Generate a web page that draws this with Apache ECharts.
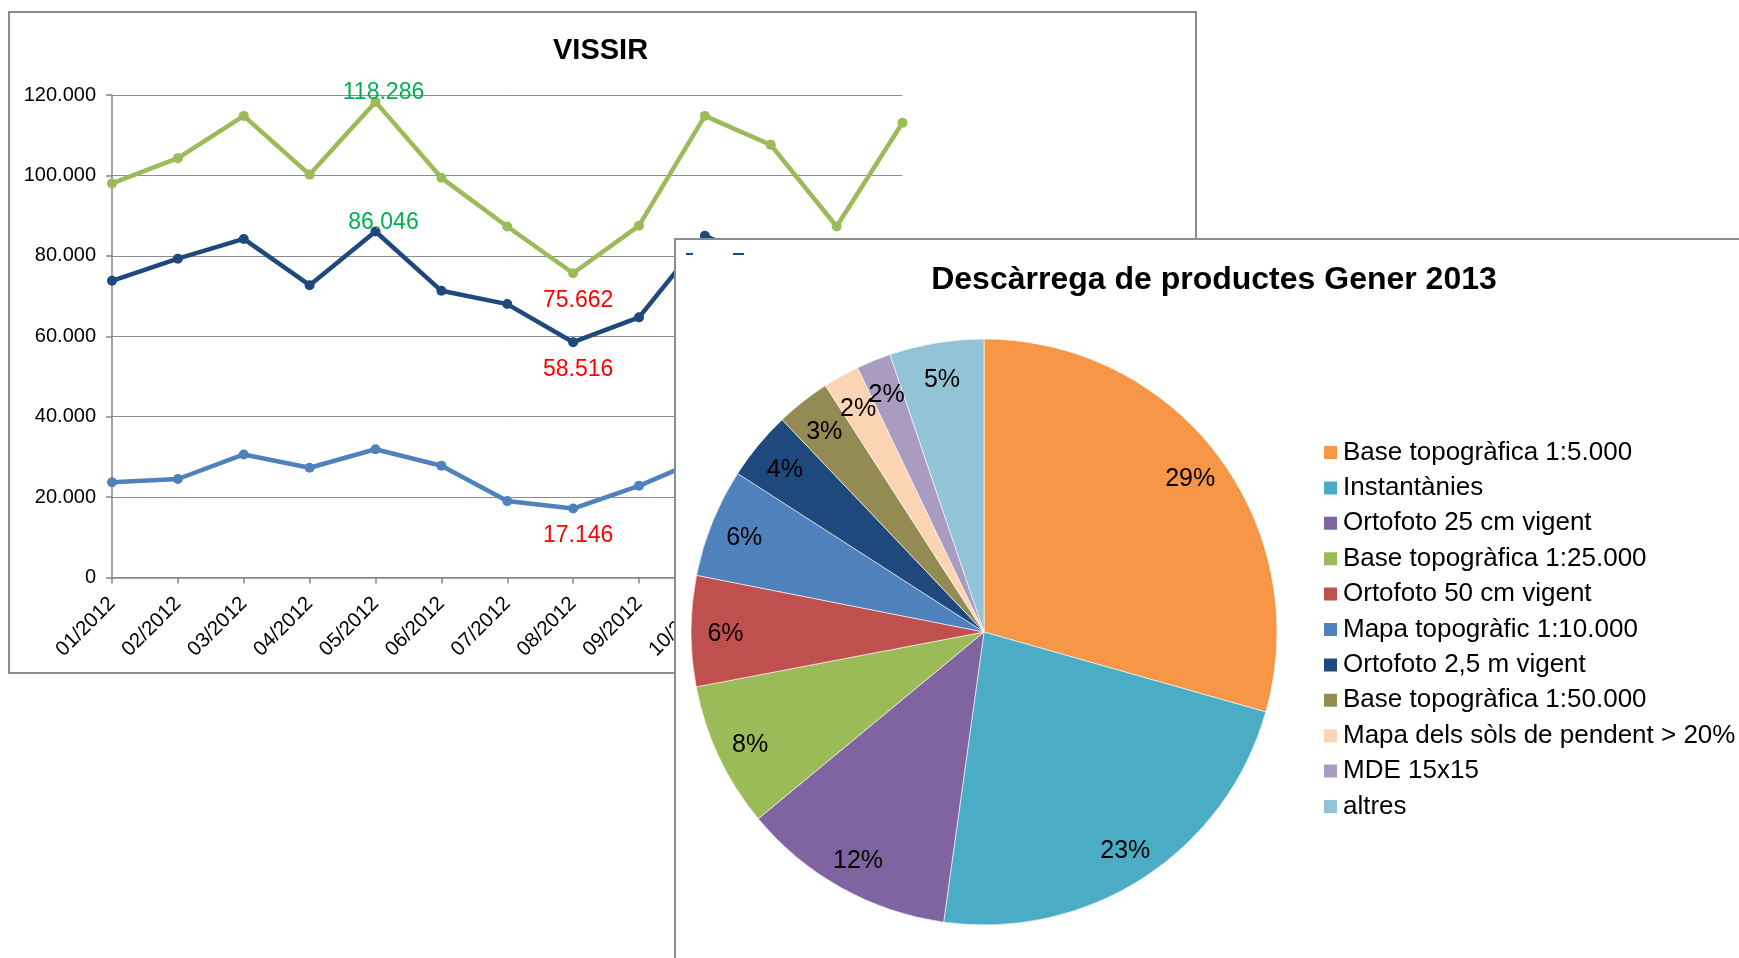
<!DOCTYPE html>
<html>
<head>
<meta charset="utf-8">
<script src="https://cdn.jsdelivr.net/npm/echarts@6/dist/echarts.min.js"></script>
<style>
  html, body { margin: 0; padding: 0; width: 1739px; height: 958px; overflow: hidden; background: #fff; }
  #lineBox { position: absolute; left: 8px; top: 11px; width: 1189px; height: 663px; border: 2px solid #8c8c8c; box-sizing: border-box; background: #fff; }
  #pieBox { position: absolute; left: 674px; top: 238px; width: 1080px; height: 730px; border: 2px solid #8c8c8c; box-sizing: border-box; background: #fff; }
  #lineChart, #pieChart { width: 100%; height: 100%; }
</style>
</head>
<body>
<div id="lineBox"><div id="lineChart"></div></div>
<div id="pieBox"><div id="pieChart"></div></div>
<script>
// ---------- Line chart data (VISSIR) ----------
const months = ['01/2012','02/2012','03/2012','04/2012','05/2012','06/2012','07/2012','08/2012','09/2012','10/2012','11/2012','12/2012','01/2013'];
const totalSeries = [98000, 104300, 114800, 100200, 118286, 99400, 87300, 75662, 87500, 114800, 107600, 87300, 113100];
const darkSeries  = [73800, 79300, 84200, 72700, 86046, 71300, 68000, 58516, 64700, 85000, 78000, 63500, 82500];
const lightSeries = [23700, 24500, 30600, 27300, 31900, 27800, 19000, 17146, 22800, 29800, 29600, 23800, 30600];
const yTickLabels = ['0', '20.000', '40.000', '60.000', '80.000', '100.000', '120.000'];
// indices of points carrying a data label
const totalMaxIdx = [4], totalMinIdx = [7];
const darkMaxIdx = [4], darkMinIdx = [7];
const lightMaxIdx = [], lightMinIdx = [7];

// ---------- Pie chart data ----------
const pieNames = ['Base topogràfica 1:5.000','Instantànies','Ortofoto 25 cm vigent','Base topogràfica 1:25.000','Ortofoto 50 cm vigent','Mapa topogràfic 1:10.000','Ortofoto 2,5 m vigent','Base topogràfica 1:50.000','Mapa dels sòls de pendent > 20%','MDE 15x15','altres'];
const pieValues = [29.4, 22.8, 11.8, 8.0, 6.1, 6.0, 3.8, 3.0, 2.0, 1.9, 5.2];
const pieColors = ['#F79646','#4BACC6','#8064A2','#9BBB59','#C0504D','#4F81BD','#1F497D','#948A54','#FBD4B4','#A99CC0','#93C3D6'];

const FONT = '"Liberation Sans", Arial, sans-serif';

function fmtNum(v) {
  return Math.round(v).toString().replace(/\B(?=(\d{3})+(?!\d))/g, '.');
}
const labelAbove = { show: true, position: 'inside', offset: [8, -9], color: '#00B050', fontSize: 23, fontFamily: FONT, formatter: p => fmtNum(p.value) };
const labelBelow = { show: true, position: 'inside', offset: [5, 27], color: '#FF0000', fontSize: 23, fontFamily: FONT, formatter: p => fmtNum(p.value) };

function buildData(values, maxIdx, minIdx) {
  return values.map((v, i) => {
    if (maxIdx.includes(i)) return { value: v, label: labelAbove };
    if (minIdx.includes(i)) return { value: v, label: labelBelow };
    return v;
  });
}

function lineSeries(name, values, color, maxIdx, minIdx) {
  return {
    name: name, type: 'line', data: buildData(values, maxIdx, minIdx),
    symbol: 'circle', symbolSize: 10, showAllSymbol: true,
    lineStyle: { color: color, width: 4.5 },
    itemStyle: { color: color },
    label: { show: false },
    emphasis: { disabled: true }
  };
}

const lineChart = echarts.init(document.getElementById('lineChart'), null, { renderer: 'canvas' });
lineChart.setOption({
  animation: false,
  backgroundColor: '#fff',
  title: {
    text: 'VISSIR', left: 538, top: 18,
    textStyle: { fontFamily: FONT, fontWeight: 'bold', fontSize: 29, color: '#000' }
  },
  grid: { left: 102, top: 82, width: 790.5, height: 482.5, containLabel: false },
  xAxis: {
    type: 'category', data: months, boundaryGap: false,
    axisLine: { show: true, lineStyle: { color: '#868686', width: 1.5 } },
    axisTick: { show: true, length: 6, interval: 0, lineStyle: { color: '#868686', width: 1.5 } },
    axisLabel: { interval: 0, rotate: 45, fontSize: 20.5, fontFamily: FONT, color: '#000', margin: 23 },
    splitLine: { show: false }
  },
  yAxis: {
    type: 'value', min: 0, max: 120000, interval: 20000,
    axisLine: { show: true, lineStyle: { color: '#868686', width: 1.5 } },
    axisTick: { show: true, length: 6, lineStyle: { color: '#868686', width: 1.5 } },
    axisLabel: { fontSize: 20, fontFamily: FONT, color: '#000', margin: 16,
      formatter: v => yTickLabels[Math.round(v / 20000)] },
    splitLine: { show: true, lineStyle: { color: '#8c8c8c', width: 1 } }
  },
  series: [
    lineSeries('Total', totalSeries, '#9BBB59', totalMaxIdx, totalMinIdx),
    lineSeries('Sèrie 1', darkSeries, '#1F497D', darkMaxIdx, darkMinIdx),
    lineSeries('Sèrie 2', lightSeries, '#4F81BD', lightMaxIdx, lightMinIdx)
  ]
});

const pieChart = echarts.init(document.getElementById('pieChart'), null, { renderer: 'canvas' });
const pieCenter = [308, 392];
const pieRadius = 293;
pieChart.setOption({
  animation: false,
  backgroundColor: '#fff',
  title: {
    text: 'Descàrrega de productes Gener 2013', left: 'center', top: 19,
    textStyle: { fontFamily: FONT, fontWeight: 'bold', fontSize: 32, color: '#000' }
  },
  legend: {
    orient: 'vertical', left: 641, top: 194.5,
    itemWidth: 15, itemHeight: 15, itemGap: 9.4, icon: 'rect',
    data: pieNames,
    selectedMode: false,
    textStyle: { fontFamily: FONT, fontSize: 26, color: '#000', lineHeight: 25 }
  },
  graphic: [
    { type: 'line', shape: { x1: 10, y1: 14, x2: 17, y2: 14 }, style: { stroke: '#1F497D', lineWidth: 2 } },
    { type: 'line', shape: { x1: 57, y1: 14, x2: 68, y2: 14 }, style: { stroke: '#1F497D', lineWidth: 2 } }
  ],
  series: [
    {
      type: 'pie', radius: pieRadius, center: pieCenter, startAngle: 90, clockwise: true,
      avoidLabelOverlap: false, label: { show: false }, labelLine: { show: false },
      emphasis: { disabled: true },
      itemStyle: { borderColor: '#ffffff', borderWidth: 0.6 },
      data: pieNames.map((n, i) => ({ name: n, value: pieValues[i], itemStyle: { color: pieColors[i] } }))
    },
    {
      type: 'pie', radius: [218, pieRadius], center: pieCenter, startAngle: 90, clockwise: true,
      avoidLabelOverlap: false, silent: true,
      itemStyle: { color: 'rgba(0,0,0,0)', borderWidth: 0 },
      emphasis: { disabled: true },
      label: { show: true, position: 'inside', rotate: 0, fontFamily: FONT, fontSize: 25, color: '#000',
        offset: [0, 3], formatter: p => Math.round(p.percent) + '%' },
      labelLayout: { hideOverlap: false },
      labelLine: { show: false },
      data: pieNames.map((n, i) => ({ name: n, value: pieValues[i] }))
    }
  ]
});
</script>
</body>
</html>
